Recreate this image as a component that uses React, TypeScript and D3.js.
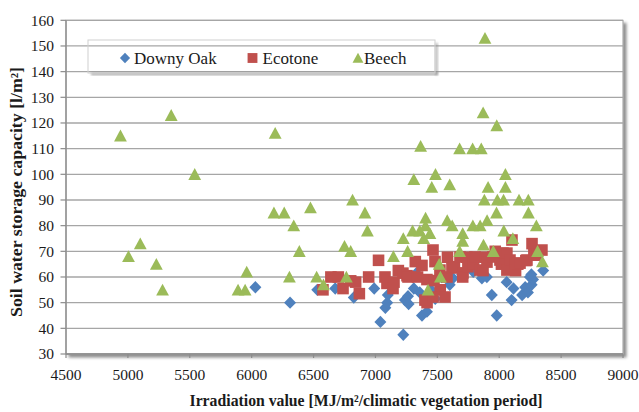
import React from "react";
import * as d3 from "d3";

// series values: [irradiation, water storage]
const downyOak: [number, number][] = [
  [6030, 56], [6310, 50], [6530, 55], [6675, 55.5], [6825, 52], [6990, 55.5],
  [7040, 42.5], [7080, 48], [7095, 50], [7100, 53], [7225, 37.5], [7238, 51],
  [7263, 52.5], [7268, 49.5], [7310, 55.5], [7330, 61.5], [7376, 45], [7416, 46.5],
  [7358, 54], [7400, 52], [7450, 55], [7483, 51.5], [7533, 60], [7600, 57],
  [7626, 59.5], [7700, 61], [7790, 62], [7860, 59.5], [7900, 60], [7940, 53],
  [7980, 45], [8060, 58], [8100, 51], [8115, 55.5], [8185, 53], [8210, 56],
  [8232, 54], [8248, 60], [8262, 57], [8273, 59], [8260, 61], [8355, 62.5],
];

const ecotone: [number, number][] = [
  [6576, 55], [6640, 60], [6700, 60], [6738, 55.5], [6800, 58.5], [6840, 58],
  [6870, 53.5], [6945, 60], [7025, 66.5], [7077, 60], [7093, 57.5], [7142, 55.5],
  [7150, 58], [7185, 62.5], [7222, 61.5], [7255, 60.5], [7263, 60], [7322, 66],
  [7340, 60], [7376, 64.5], [7416, 59], [7417, 50], [7400, 51], [7465, 70.5],
  [7481, 66], [7521, 62.7], [7523, 55], [7465, 52.2], [7562, 52.2], [7578, 60],
  [7582, 67.7], [7618, 63.5], [7638, 64], [7683, 67.8], [7707, 61.6], [7705, 60],
  [7737, 67.7], [7747, 64], [7793, 65], [7804, 67.8], [7844, 62.7], [7869, 62.5],
  [7886, 67.7], [7901, 65.8], [7949, 67.8], [7968, 70], [8006, 66.6], [8030, 69.3],
  [8018, 65], [8062, 69.3], [8062, 62.7], [8087, 66.6], [8103, 74.4], [8127, 65.4],
  [8132, 62.5], [8150, 65], [8168, 65.4], [8215, 66.4], [8224, 66.6], [8265, 73],
  [8280, 69], [8305, 68.5], [8345, 70.5], [7473, 58.6],
];

const beech: [number, number][] = [
  [4940, 115], [5005, 68], [5100, 73], [5230, 65], [5280, 55], [5350, 123],
  [5540, 100], [5890, 55], [5947, 55], [5960, 62], [6190, 116], [6180, 85],
  [6263, 85], [6340, 80], [6385, 70], [6305, 60], [6475, 87], [6525, 60],
  [6580, 57], [6750, 72], [6800, 70], [6765, 60], [6815, 90], [6915, 85],
  [6935, 78], [7145, 68], [7225, 75], [7260, 70], [7300, 78], [7310, 98],
  [7365, 111], [7358, 78], [7390, 75], [7405, 83], [7404, 80], [7440, 77],
  [7455, 95], [7485, 100], [7425, 55], [7515, 65], [7525, 60], [7600, 96],
  [7580, 82], [7620, 80], [7680, 110], [7680, 70], [7705, 77], [7705, 74],
  [7785, 110], [7787, 80], [7855, 110], [7870, 124], [7885, 153], [7846, 80],
  [7880, 90], [7873, 72.5], [7902, 82], [7910, 95], [7980, 119], [7978, 85],
  [7952, 70], [7985, 90], [8035, 90], [8050, 100], [8050, 95], [8037, 78],
  [8110, 75], [8160, 90], [8235, 90], [8236, 85], [8300, 80], [8310, 70],
  [8349, 66],
];

const xTicks = [4500, 5000, 5500, 6000, 6500, 7000, 7500, 8000, 8500, 9000];
const yTicks = [30, 40, 50, 60, 70, 80, 90, 100, 110, 120, 130, 140, 150, 160];
const seriesNames = ["Downy Oak", "Ecotone", "Beech"];
const seriesColors = ["#4F81BD", "#C0504D", "#9BBB59"];

const W = 639;
const H = 412;
const plot = { left: 66, right: 623, top: 20.3, bottom: 354 };
const serif = { fontFamily: "Liberation Serif" };

const diamond = "M0,-6.2L6,0L0,6.2L-6,0Z";
const square = "M-5.8,-5.8H5.8V5.8H-5.8Z";
const triangle = "M0,-6.2L6.4,5.6L-6.4,5.6Z";
const shapes = [diamond, square, triangle];

export default function App() {
  const x = d3.scaleLinear().domain([4500, 9000]).range([plot.left, plot.right]);
  const y = d3.scaleLinear().domain([30, 160]).range([plot.bottom, plot.top]);
  const allSeries = [downyOak, ecotone, beech];

  const legend = [
    { mx: 125, tx: 134 },
    { mx: 252.5, tx: 262.5 },
    { mx: 358, tx: 364 },
  ];

  return (
    <svg
      width={W}
      height={H}
      style={{ position: "absolute", left: 0, top: 0, background: "#fff", ...serif }}
    >
      <defs>
        <filter id="shadow" x="-5%" y="-5%" width="115%" height="120%">
          <feDropShadow dx="3" dy="3" stdDeviation="1.6" floodColor="#000" floodOpacity="0.45" />
        </filter>
        <filter id="blur">
          <feGaussianBlur stdDeviation="1.3" />
        </filter>
      </defs>

      {/* plot area with drop shadow */}
      <rect
        x={plot.left}
        y={plot.top}
        width={plot.right - plot.left}
        height={plot.bottom - plot.top}
        fill="#fff"
        stroke="#9a9a9a"
        strokeWidth={1}
        filter="url(#shadow)"
      />

      {/* gridlines */}
      {yTicks.map((t) => (
        <line
          key={"g" + t}
          x1={plot.left}
          x2={plot.right}
          y1={y(t)}
          y2={y(t)}
          stroke="#a6a6a6"
          strokeWidth={1.3}
        />
      ))}

      {/* axes */}
      <line x1={plot.left} x2={plot.left} y1={plot.top} y2={plot.bottom} stroke="#8c8c8c" strokeWidth={1.3} />
      <line x1={plot.left} x2={plot.right} y1={plot.bottom} y2={plot.bottom} stroke="#8c8c8c" strokeWidth={1.3} />
      {yTicks.map((t) => (
        <g key={"y" + t}>
          <line x1={plot.left - 5.5} x2={plot.left} y1={y(t)} y2={y(t)} stroke="#8c8c8c" strokeWidth={1.2} />
          <text x={54} y={y(t) + 5.2} textAnchor="end" fontSize={15.5} fill="#1a1a1a" style={serif}>
            {t}
          </text>
        </g>
      ))}
      {xTicks.map((t) => (
        <g key={"x" + t}>
          <line x1={x(t)} x2={x(t)} y1={plot.bottom} y2={plot.bottom + 4} stroke="#8c8c8c" strokeWidth={1.2} />
          <text x={x(t)} y={380} textAnchor="middle" fontSize={15.5} fill="#1a1a1a" style={serif}>
            {t}
          </text>
        </g>
      ))}

      {/* legend */}
      <rect x={91} y={72} width={347} height={3.5} fill="#888" opacity={0.6} filter="url(#blur)" />
      <rect x={435} y={43} width={3} height={32} fill="#888" opacity={0.5} filter="url(#blur)" />
      <rect x={88} y={40} width={347} height={33} fill="none" stroke="#d0d0d0" strokeWidth={1} />
      {legend.map((l, i) => (
        <g key={"l" + i}>
          <path d={shapes[i]} transform={`translate(${l.mx},58) scale(0.85)`} fill={seriesColors[i]} />
          <text x={l.tx} y={63.5} fontSize={17} fill="#1a1a1a" style={serif}>
            {seriesNames[i]}
          </text>
        </g>
      ))}

      {/* points */}
      {allSeries.map((s, i) => (
        <g key={"s" + i} fill={seriesColors[i]}>
          {s.map((d, j) => (
            <path key={j} d={shapes[i]} transform={`translate(${x(d[0])},${y(d[1])})`} />
          ))}
        </g>
      ))}

      {/* axis titles */}
      <text
        x={366}
        y={406}
        textAnchor="middle"
        fontSize={16}
        fontWeight="bold"
        fill="#1a1a1a"
        textLength={353}
        lengthAdjust="spacingAndGlyphs"
        style={serif}
      >
        Irradiation value [MJ/m²/climatic vegetation period]
      </text>
      <text
        transform="translate(21.5,192) rotate(-90)"
        textAnchor="middle"
        fontSize={16.5}
        fontWeight="bold"
        fill="#1a1a1a"
        textLength={250}
        lengthAdjust="spacingAndGlyphs"
        style={serif}
      >
        Soil water storage capacity [l/m²]
      </text>
    </svg>
  );
}
